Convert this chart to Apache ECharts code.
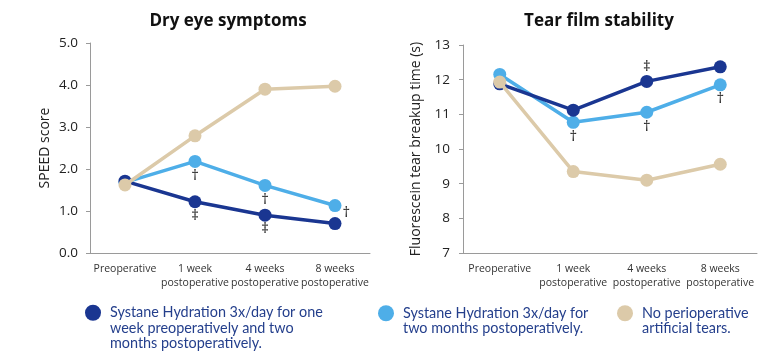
<!DOCTYPE html>
<html><head><meta charset="utf-8">
<script src="https://cdn.jsdelivr.net/npm/echarts@6/dist/echarts.min.js"></script>
<style>html,body{margin:0;padding:0;background:#fff}#c{width:768px;height:355px}</style>
</head><body><div id="c"></div>
<script>
const categories = ['Preoperative', '1 week\npostoperative', '4 weeks\npostoperative', '8 weeks\npostoperative'];
const seriesNames = [
  'Systane Hydration 3x/day for one\nweek preoperatively and two\nmonths postoperatively.',
  'Systane Hydration 3x/day for\ntwo months postoperatively.',
  'No perioperative\nartificial tears.'
];
const chartTitles = ['Dry eye symptoms', 'Tear film stability'];
const axisNames = ['SPEED score', 'Fluorescein tear breakup time (s)'];
// SPEED score
const speedDual = [1.71, 1.22, 0.90, 0.70];
const speedPost = [1.68, 2.18, 1.61, 1.13];
const speedNone = [1.62, 2.79, 3.90, 3.97];
const speedMarksDual = ['', '‡', '‡', ''];
const speedMarksPost = ['', '†', '†', '†'];
// Tear breakup time
const tbutDual = [11.88, 11.12, 11.95, 12.37];
const tbutPost = [12.15, 10.77, 11.06, 11.85];
const tbutNone = [11.93, 9.35, 9.10, 9.56];
const tbutMarksDual = ['', '', '‡', ''];
const tbutMarksPost = ['', '†', '†', '†'];
// axis ranges
const speedAxis = {min: 0, max: 5, interval: 1};
const tbutAxis = {min: 7, max: 13, interval: 1};

const colors = ['#1a3691', '#4eaee8', '#dccaa9'];
const FONT = '"Open Sans", sans-serif';

function withMarks(values, marks, placement) {
  return values.map((v, i) => {
    if (!marks[i]) return v;
    const p = placement(i);
    return {value: v, label: Object.assign({show: true, formatter: marks[i], fontSize: 15, color: '#222', fontFamily: FONT}, p)};
  });
}
function lineSeries(idx, data, axisIdx, z) {
  return {
    type: 'line', name: seriesNames[idx], xAxisIndex: axisIdx, yAxisIndex: axisIdx,
    data: data, symbol: 'circle', symbolSize: 13, z: z,
    itemStyle: {color: colors[idx]}, lineStyle: {color: colors[idx], width: 3.5},
    emphasis: {disabled: true}
  };
}
const below = () => ({position: 'bottom', distance: 0});

const chart = echarts.init(document.getElementById('c'));
const xAxisBase = {
  type: 'category', data: categories,
  axisLine: {lineStyle: {color: '#9a9a9a', width: 1}},
  axisTick: {show: false},
  axisLabel: {fontFamily: FONT, fontSize: 10.5, color: '#333', lineHeight: 14, margin: 9, interval: 0}
};
const yAxisBase = {
  type: 'value', splitLine: {show: false},
  axisLine: {show: true, lineStyle: {color: '#9a9a9a', width: 1}},
  axisTick: {show: true, length: 4, lineStyle: {color: '#9a9a9a'}},
  nameLocation: 'middle', nameTextStyle: {fontFamily: FONT, fontSize: 14, color: '#222'},
  axisLabel: {fontFamily: FONT, fontSize: 13.5, color: '#222'}
};
function legendAt(i, left, top, lines) {
  return {
    data: [seriesNames[i]], left: left, top: top, padding: 0,
    icon: 'circle', itemWidth: 16, itemHeight: 16,
    formatter: name => '\n'.repeat(lines - 1) + name,
    textStyle: {fontFamily: 'Lato, sans-serif', fontSize: 14.4, color: '#243f8c', lineHeight: 15.5,
      padding: [0, 0, 0, 4]},
    selectedMode: false
  };
}
chart.setOption({
  animation: false,
  title: [
    {text: chartTitles[0], left: 228, top: 13, textAlign: 'center', padding: 0,
     textStyle: {fontFamily: FONT, fontWeight: 'bold', fontSize: 17, color: '#111'}},
    {text: chartTitles[1], left: 599, top: 13, textAlign: 'center', padding: 0,
     textStyle: {fontFamily: FONT, fontWeight: 'bold', fontSize: 17, color: '#111'}}
  ],
  legend: [
    legendAt(0, 85, 274, 3),
    legendAt(1, 378, 290, 2),
    legendAt(2, 617, 290, 2)
  ],
  grid: [
    {left: 90, right: 398, top: 43, bottom: 102},
    {left: 463, right: 11, top: 45, bottom: 102}
  ],
  xAxis: [
    Object.assign({gridIndex: 0}, xAxisBase),
    Object.assign({gridIndex: 1}, xAxisBase)
  ],
  yAxis: [
    Object.assign({}, yAxisBase, {gridIndex: 0, min: speedAxis.min, max: speedAxis.max, interval: speedAxis.interval,
      name: axisNames[0], nameGap: 38,
      axisLabel: Object.assign({}, yAxisBase.axisLabel, {margin: 12, formatter: v => v.toFixed(1)})}),
    Object.assign({}, yAxisBase, {gridIndex: 1, min: tbutAxis.min, max: tbutAxis.max, interval: tbutAxis.interval,
      name: axisNames[1], nameGap: 40,
      axisLabel: Object.assign({}, yAxisBase.axisLabel, {margin: 13})})
  ],
  series: [
    lineSeries(1, withMarks(speedPost, speedMarksPost, i => i === 3 ? {position: 'right', distance: 1, offset: [0, 7]} : below()), 0, 2),
    lineSeries(0, withMarks(speedDual, speedMarksDual, below), 0, 3),
    lineSeries(2, speedNone, 0, 4),
    lineSeries(1, withMarks(tbutPost, tbutMarksPost, below), 1, 2),
    lineSeries(0, withMarks(tbutDual, tbutMarksDual, () => ({position: 'top', distance: 1})), 1, 3),
    lineSeries(2, tbutNone, 1, 4)
  ]
});
</script></body></html>
